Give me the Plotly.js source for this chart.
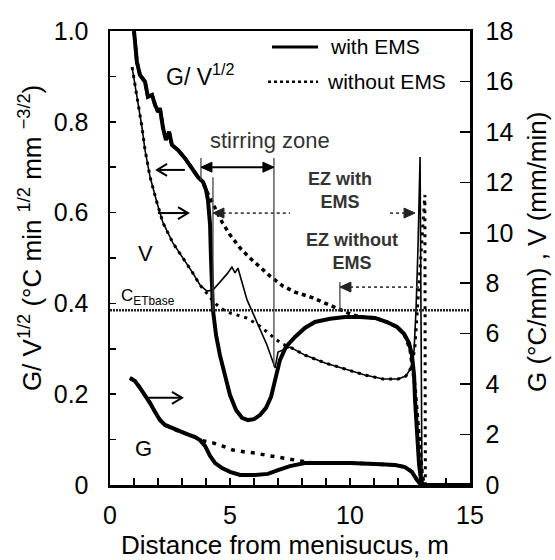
<!DOCTYPE html>
<html><head><meta charset="utf-8">
<script src="https://cdn.plot.ly/plotly-3.0.1.min.js"></script>
<style>html,body{margin:0;padding:0;background:#fff;}#chart{width:555px;height:560px;}</style>
</head><body><div id="chart"></div>
<script>
// ---- data (distance from meniscus, m) ----
const distGVWith = [1.0,1.12,1.25,1.46,1.58,1.75,1.88,2.0,2.08,2.21,2.33,2.46,2.58,2.83,3.12,3.42,3.67,3.88,4.0,4.08,4.17,4.21,4.25,4.29,4.42,4.58,4.79,5.0,5.25,5.5,5.75,6.0,6.25,6.5,6.71,6.88,7.08,7.33,7.71,8.12,8.54,9.17,9.79,10.42,11.04,11.54,11.96,12.25,12.46,12.58,12.67,12.71,12.79,12.88,12.96,13.04,15];
const gvWith = [1.0,0.932,0.903,0.888,0.855,0.859,0.837,0.822,0.830,0.786,0.760,0.778,0.749,0.738,0.720,0.698,0.678,0.667,0.650,0.628,0.573,0.496,0.430,0.385,0.330,0.286,0.242,0.198,0.165,0.148,0.143,0.145,0.154,0.170,0.194,0.231,0.275,0.304,0.326,0.346,0.359,0.366,0.370,0.370,0.368,0.359,0.348,0.333,0.313,0.286,0.242,0.187,0.106,0.044,0.011,0,0];

const distGVWithout = [1.0,1.12,1.25,1.46,1.58,1.75,1.88,2.0,2.08,2.21,2.33,2.46,2.58,2.83,3.12,3.42,3.67,3.88,4.0,4.17,4.38,4.67,5.0,5.42,5.83,6.25,6.67,7.21,7.71,8.46,9.04,9.58,10.0,10.42,11.04,11.54,11.96,12.25,12.5,12.7,12.85,13.0,13.08,15];
const gvWithout = [1.0,0.932,0.903,0.888,0.855,0.859,0.837,0.822,0.830,0.786,0.760,0.778,0.749,0.738,0.720,0.698,0.678,0.667,0.650,0.632,0.610,0.579,0.551,0.522,0.500,0.480,0.460,0.438,0.425,0.412,0.399,0.385,0.377,0.370,0.368,0.359,0.348,0.333,0.300,0.220,0.120,0.030,0,0];

const distVWith = [0.92,1.04,1.17,1.33,1.46,1.67,1.96,2.21,2.62,3.04,3.42,3.75,4.04,4.29,4.58,4.88,5.08,5.21,5.33,5.46,5.71,6.12,6.54,6.88,7.0,7.5,8.12,8.96,9.79,10.62,11.38,12.0,12.33,12.54,12.67,12.75,12.83,12.92,13.0,15];
const vWith = [16.57,15.86,15.27,14.2,13.28,12.21,11.18,10.39,9.6,9.0,8.45,7.93,7.69,7.73,8.05,8.37,8.64,8.41,8.6,8.13,7.34,6.46,5.55,4.64,5.27,5.47,5.15,4.84,4.6,4.36,4.2,4.2,4.32,4.64,5.35,6.94,9.32,13.0,0,0];

const distVWithout = [0.92,1.04,1.17,1.33,1.46,1.67,1.96,2.21,2.62,3.04,3.42,3.75,4.04,4.29,4.58,5.0,5.71,6.25,6.79,7.17,7.5,8.12,8.96,9.79,10.62,11.38,12.0,12.33,12.54,12.7,12.85,13.0,13.12,13.14,15];
const vWithout = [16.57,15.86,15.27,14.2,13.28,12.21,11.18,10.39,9.6,9.0,8.45,7.93,7.6,7.3,7.02,6.82,6.62,6.3,5.87,5.59,5.47,5.15,4.84,4.6,4.36,4.2,4.2,4.32,4.64,5.4,7.5,10.0,11.5,0,0];

const distGWith = [0.83,1.04,1.25,1.46,1.67,1.88,2.08,2.29,2.58,2.92,3.21,3.54,3.75,3.96,4.17,4.38,4.67,5.0,5.42,6.04,6.58,7.0,7.5,8.12,8.96,10.0,11.04,11.88,12.29,12.58,12.79,12.96,15];
const gWith = [4.24,4.12,3.85,3.57,3.25,2.89,2.58,2.38,2.26,2.1,2.02,1.9,1.78,1.55,1.15,0.87,0.67,0.52,0.40,0.40,0.44,0.59,0.75,0.87,0.87,0.87,0.83,0.79,0.71,0.52,0.2,0,0];

const distGWithout = [0.83,1.04,1.25,1.46,1.67,1.88,2.08,2.29,2.58,2.92,3.21,3.54,3.75,4.29,4.67,5.12,5.62,6.04,6.46,6.96,7.5,8.04,8.46,8.96,10.0,11.04,11.88,12.29,12.58,12.79,12.96,15];
const gWithout = [4.24,4.12,3.85,3.57,3.25,2.89,2.58,2.38,2.26,2.1,2.02,1.9,1.78,1.67,1.55,1.39,1.31,1.27,1.19,1.11,1.03,0.95,0.87,0.87,0.87,0.83,0.79,0.71,0.52,0.2,0,0];

const cETbase = 0.385;
const xTickVals = [0,5,10,15];
const xTickText = ['0','5','10','15'];
const yTickVals = [0,0.2,0.4,0.6,0.8,1.0];
const yTickText = ['0','0.2','0.4','0.6','0.8','1.0'];
const y2TickVals = [0,2,4,6,8,10,12,14,16,18];
const y2TickText = ['0','2','4','6','8','10','12','14','16','18'];

// ---- plot ----
const FONT = 'Liberation Sans, Arial, Helvetica, sans-serif';
const K = '#000';
const traces = [
  {name:'G/V^1/2 with EMS', x:distGVWith, y:gvWith, yaxis:'y', mode:'lines', line:{color:K,width:4}},
  {name:'V with EMS', x:distVWith, y:vWith, yaxis:'y2', mode:'lines', line:{color:K,width:1.6}},
  {name:'G with EMS', x:distGWith, y:gWith, yaxis:'y2', mode:'lines', line:{color:K,width:4}},
  {name:'G/V^1/2 without EMS', x:distGVWithout, y:gvWithout, yaxis:'y', mode:'lines', line:{color:K,width:3.5,dash:'4px,4px'}},
  {name:'V without EMS', x:distVWithout, y:vWithout, yaxis:'y2', mode:'lines', line:{color:K,width:3,dash:'3px,5px'}},
  {name:'G without EMS', x:distGWithout, y:gWithout, yaxis:'y2', mode:'lines', line:{color:K,width:3.5,dash:'4px,6px'}}
];

const G = '#444';
function seg(x0, y0, x1, y1, color, width, dash) {
  return {type:'line', xref:'x', yref:'y', x0:x0, y0:y0, x1:x1, y1:y1, line:{color:color, width:width, dash:dash||'solid'}};
}
// arrowheads drawn as pixel-sized paths anchored at a data point; dir = +1 points right, -1 points left
function openHead(x, y, dir) {
  const d = -dir;
  return {type:'path', xref:'x', yref:'y', xsizemode:'pixel', ysizemode:'pixel', xanchor:x, yanchor:y,
    path:'M' + (10*d) + ',6 L0,0 L' + (10*d) + ',-6', line:{color:K, width:2}};
}
function solidHead(x, y, dir, color) {
  const d = -dir;
  return {type:'path', xref:'x', yref:'y', xsizemode:'pixel', ysizemode:'pixel', xanchor:x, yanchor:y,
    path:'M0,0 L' + (11*d) + ',5 L' + (11*d) + ',-5 Z', line:{color:color, width:1}, fillcolor:color};
}
const shapes = [
  {type:'line', xref:'paper', yref:'y', x0:0, x1:1, y0:cETbase, y1:cETbase, line:{color:'#222',width:2.5,dash:'2px,1px'}},
  // stirring zone
  seg(3.79, 0.672, 3.79, 0.72, G, 1.3),
  seg(6.83, 0.26, 6.83, 0.72, G, 1.3),
  seg(3.85, 0.70, 6.77, 0.70, K, 2),
  solidHead(3.79, 0.70, -1, K),
  solidHead(6.83, 0.70, 1, K),
  // EZ markers
  seg(4.29, cETbase, 4.29, 0.678, G, 1.3),
  seg(9.58, cETbase, 9.58, 0.447, G, 1.3),
  seg(4.45, 0.599, 7.5, 0.599, G, 1.8, 'dot'),
  seg(11.67, 0.599, 12.5, 0.599, G, 1.8, 'dot'),
  seg(9.75, 0.436, 12.92, 0.436, G, 1.8, 'dot'),
  solidHead(4.29, 0.599, -1, '#222'),
  solidHead(12.71, 0.599, 1, '#222'),
  solidHead(9.58, 0.436, -1, '#222'),
  // pointers to the axes
  seg(1.96, 0.694, 3.12, 0.694, K, 2),
  openHead(1.96, 0.694, -1),
  seg(2.0, 0.599, 3.25, 0.599, K, 2),
  openHead(3.25, 0.599, 1),
  seg(1.46, 0.192, 3.0, 0.192, K, 2),
  openHead(3.0, 0.192, 1),
  // legend samples
  {type:'line', xref:'paper', yref:'paper', x0:0.45, x1:0.578, y0:0.965, y1:0.965, line:{color:K,width:3}},
  {type:'line', xref:'paper', yref:'paper', x0:0.439, x1:0.578, y0:0.888, y1:0.888, line:{color:K,width:2.5,dash:'dot'}}
];

function label(x, y, text, font, extra) {
  return Object.assign({x:x, y:y, xref:'x', yref:'y', text:text, showarrow:false,
    xanchor:'center', yanchor:'middle', font:font}, extra||{});
}
function plabel(x, y, text, font, extra) {
  return Object.assign({x:x, y:y, xref:'paper', yref:'paper', text:text, showarrow:false,
    xanchor:'center', yanchor:'middle', font:font}, extra||{});
}
const annotations = [
  plabel(-0.222, 0.544, 'G/ V<sup>1/2</sup> (°C min <sup>1/2</sup> mm <sup>−3/2</sup>)', {size:26}, {textangle:-90}),
  plabel(1.186, 0.513, 'G (°C/mm) , V (mm/min)', {size:26}, {textangle:-90}),
  plabel(0.486, -0.132, 'Distance from menisucus, m', {size:26}),
  plabel(0.606, 0.965, 'with EMS', {size:21}, {xanchor:'left'}),
  plabel(0.597, 0.888, 'without EMS', {size:21}, {xanchor:'left'}),
  label(3.75, 0.903, 'G/ V<sup>1/2</sup>', {size:23}),
  label(1.46, 0.511, 'V', {size:22}),
  label(1.375, 0.0815, 'G', {size:22}),
  label(6.67, 0.758, 'stirring zone', {size:22, color:'#333'}),
  label(9.58, 0.648, '<b>EZ with<br>EMS</b>', {size:18, color:'#333'}),
  label(10.08, 0.515, '<b>EZ without<br>EMS</b>', {size:18, color:'#333'}),
  label(0.375, 0.414, 'C<sub>ETbase</sub>', {size:17}, {xanchor:'left'})
];

const tickFont = {size:25, color:K, family:FONT};
const layout = {
  width:555, height:560,
  margin:{l:110, r:85, t:31, b:75, pad:0},
  paper_bgcolor:'#fff', plot_bgcolor:'#fff',
  font:{family:FONT, color:K},
  showlegend:false,
  xaxis:{range:[0,15], tickvals:xTickVals, ticktext:xTickText, ticks:'inside', ticklen:7, tickwidth:1.5, tickcolor:K,
    minor:{dtick:1, tick0:0, ticks:'inside', ticklen:7, tickwidth:1.5, tickcolor:K},
    showline:true, linewidth:2.5, linecolor:K, mirror:true, showgrid:false, zeroline:false, tickfont:tickFont, ticklabelstandoff:6},
  yaxis:{range:[0,1], tickvals:yTickVals, ticktext:yTickText, ticks:'inside', ticklen:6, tickwidth:1.5, tickcolor:K,
    minor:{dtick:0.1, tick0:0, ticks:'inside', ticklen:6, tickwidth:1.5, tickcolor:K},
    showline:true, linewidth:2.5, linecolor:K, showgrid:false, zeroline:false, tickfont:tickFont, ticklabelstandoff:14},
  yaxis2:{range:[0,18], overlaying:'y', side:'right', tickvals:y2TickVals, ticktext:y2TickText, ticks:'inside', ticklen:10, tickwidth:1.5, tickcolor:K,
    showline:true, linewidth:2.5, linecolor:K, showgrid:false, zeroline:false, tickfont:tickFont, ticklabelstandoff:8},
  shapes:shapes,
  annotations:annotations
};
Plotly.newPlot('chart', traces, layout, {staticPlot:true, displayModeBar:false});
</script>
</body></html>
